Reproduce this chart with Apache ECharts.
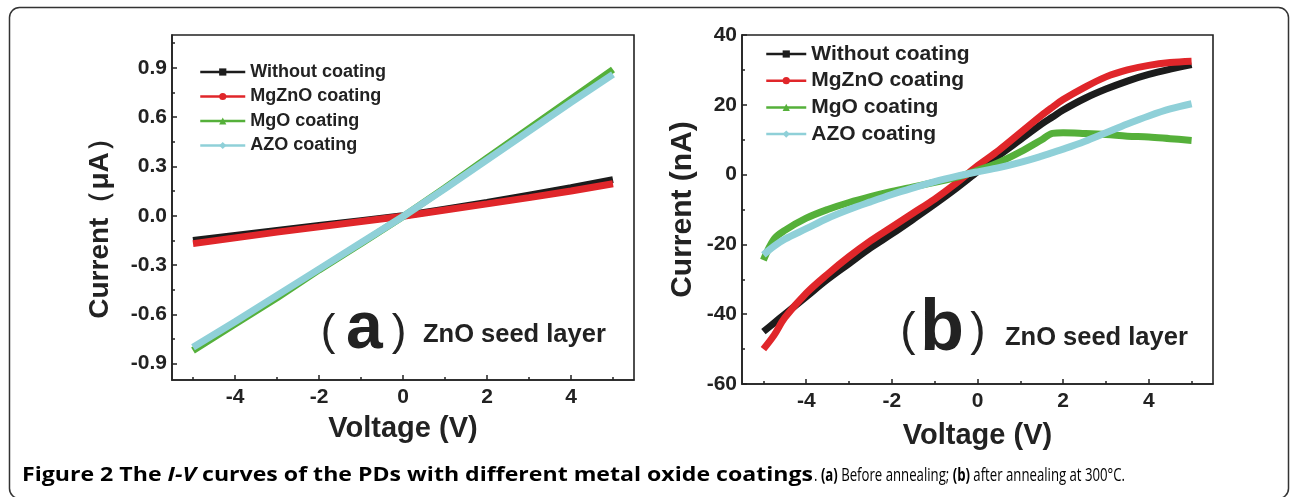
<!DOCTYPE html>
<html><head><meta charset="utf-8">
<script src="https://cdn.jsdelivr.net/npm/echarts@6/dist/echarts.min.js"></script>
<style>html,body{margin:0;padding:0;background:#fff}#c{width:1290px;height:497px}</style>
</head><body><div id="c"></div>
<script>
// ---------- data ----------
const seriesNames = ['Without coating', 'MgZnO coating', 'MgO coating', 'AZO coating'];
const seriesSymbols = ['rect', 'circle', 'triangle', 'diamond'];
const seriesColors = ['#1c1c1c', '#e0262a', '#55b03a', '#8fd0d8'];

// (a) before annealing, current in µA
const voltsA = [-5, -4, -3, -2, -1, 0, 1, 2, 3, 4, 5];
const currA_without = [-0.15, -0.12, -0.09, -0.06, -0.03, 0.0, 0.04, 0.08, 0.125, 0.17, 0.22];
const currA_mgzno  = [-0.17, -0.135, -0.10, -0.068, -0.035, -0.003, 0.035, 0.072, 0.11, 0.15, 0.195];
const currA_mgo    = [-0.82, -0.66, -0.50, -0.33, -0.17, -0.005, 0.17, 0.35, 0.53, 0.71, 0.89];
const currA_azo    = [-0.80, -0.645, -0.485, -0.325, -0.165, -0.005, 0.165, 0.34, 0.515, 0.69, 0.86];

// (b) after annealing at 300 °C, current in nA
const voltsB = [-5, -4.75, -4.5, -4, -3.5, -3, -2.5, -2, -1.5, -1, -0.5, 0, 0.5, 1, 1.5, 1.75, 2, 2.5, 3, 3.5, 4, 4.5, 5];
const currB_without = [-45, -42.5, -40, -35, -30, -25.5, -21, -17, -12.8, -8.5, -4, 0.8, 5.5, 10, 14.5, 16.5, 18.5, 21.8, 24.5, 26.8, 28.7, 30.2, 31.5];
const currB_mgzno  = [-50, -46, -41, -34, -28.5, -23.5, -19, -15, -11, -7, -2.5, 2.5, 7, 12, 17, 19.3, 21.5, 25, 28, 30, 31.3, 32.1, 32.5];
const currB_mgo    = [-24.5, -18.5, -16, -12.5, -10, -8, -6.3, -4.8, -3.5, -2.2, -0.8, 1.2, 3.5, 6.5, 10, 11.8, 12, 11.8, 11.5, 11, 10.8, 10.3, 9.8];
const currB_azo    = [-23, -20.5, -18.5, -15.5, -12.5, -10, -7.8, -5.7, -3.8, -2, -0.5, 0.8, 2, 3.5, 5.3, 6.3, 7.3, 9.5, 12, 14.5, 16.8, 18.8, 20.3];

// ticks
const xTicks = [-4, -2, 0, 2, 4];
const xMinorTicks = [-5, -3, -1, 1, 3, 5];
const yTicksA = [-0.9, -0.6, -0.3, 0, 0.3, 0.6, 0.9];
const yMinorTicksA = [-0.75, -0.45, -0.15, 0.15, 0.45, 0.75, 1.05];
const yTicksB = [-60, -40, -20, 0, 20, 40];
const yMinorTicksB = [-50, -30, -10, 10, 30];

// caption text
const captionBold = ['Figure 2 The ', 'I-V', ' curves of the PDs with different metal oxide coatings'];
const captionRest = ['. ', '(a)', ' Before annealing; ', '(b)', ' after annealing at 300°C.'];

// ---------- chart ----------
const FONT = "'Liberation Sans', Arial, sans-serif";
const CAPFONT = "'Open Sans', sans-serif";
const INK = '#222';
const zip = (xs, ys) => xs.map((x, i) => [x, ys[i]]);

const mctx = document.createElement('canvas').getContext('2d');
function tw(font, s) { mctx.font = font; return mctx.measureText(s).width; }

function mainX(gridIndex, nameGap) {
  return {
    type: 'value', gridIndex, min: -5.5, max: 5.5,
    axisLine: { show: true, onZero: false, lineStyle: { color: INK, width: 1.6 } },
    axisTick: { show: true, inside: true, length: 5, customValues: xTicks, lineStyle: { color: INK, width: 1.5 } },
    axisLabel: { customValues: xTicks, fontSize: 21, fontWeight: 'bold', color: INK, fontFamily: FONT, margin: 7 },
    splitLine: { show: false },
    name: 'Voltage (V)', nameLocation: 'middle', nameGap,
    nameTextStyle: { fontSize: 29, fontWeight: 'bold', color: INK, fontFamily: FONT }
  };
}
function minorX(gridIndex) {
  return {
    type: 'value', gridIndex, min: -5.5, max: 5.5, position: 'bottom',
    axisLine: { show: false, onZero: false },
    axisTick: { show: true, inside: true, length: 3, customValues: xMinorTicks, lineStyle: { color: INK, width: 1.5 } },
    axisLabel: { show: false }, splitLine: { show: false }
  };
}
function minorY(gridIndex, min, max, vals) {
  return {
    type: 'value', gridIndex, min, max, position: 'left',
    axisLine: { show: false, onZero: false },
    axisTick: { show: true, inside: true, length: 3, customValues: vals, lineStyle: { color: INK, width: 1.5 } },
    axisLabel: { show: false }, splitLine: { show: false }
  };
}

const dataA = [currA_without, currA_mgzno, currA_mgo, currA_azo];
const dataB = [currB_without, currB_mgzno, currB_mgo, currB_azo];

const series = [];
dataA.forEach((ys, i) => series.push({
  type: 'line', name: seriesNames[i], xAxisIndex: 0, yAxisIndex: 0,
  data: zip(voltsA, ys), symbol: seriesSymbols[i], symbolSize: 6, showSymbol: false,
  lineStyle: { color: seriesColors[i], width: 7 }, itemStyle: { color: seriesColors[i] },
  z: 2 + i, silent: true
}));
dataB.forEach((ys, i) => series.push({
  type: 'line', name: seriesNames[i], xAxisIndex: 2, yAxisIndex: 2,
  data: zip(voltsB, ys), smooth: 0.35, symbol: seriesSymbols[i], symbolSize: 6, showSymbol: false,
  lineStyle: { color: seriesColors[i], width: 7 }, itemStyle: { color: seriesColors[i] },
  z: 2 + i, silent: true
}));

const legendBase = (left, top, fontSize, lineHeight, gap, iw) => ({
  orient: 'vertical', left, top, padding: 0, itemWidth: iw, itemHeight: 9, itemGap: gap,
  data: seriesNames, selectedMode: false,
  lineStyle: { width: 2.5 },
  textStyle: { fontSize, fontWeight: 'bold', color: INK, fontFamily: FONT, lineHeight }
});

// caption widths (scaled to the measured spans of the reference)
const CB = 19, CN = 18;
const fB = 'bold ' + CB + 'px ' + CAPFONT, fBI = 'italic bold ' + CB + 'px ' + CAPFONT;
const fNb = 'bold ' + CN + 'px ' + CAPFONT, fN = CN + 'px ' + CAPFONT;
const wBold = tw(fB, captionBold[0]) + tw(fBI, captionBold[1]) + tw(fB, captionBold[2]);
const wRest = tw(fN, captionRest[0]) + tw(fNb, captionRest[1]) + tw(fN, captionRest[2]) + tw(fNb, captionRest[3]) + tw(fN, captionRest[4]);
const capRich = {
  b:  { fontFamily: CAPFONT, fontSize: CB, fontWeight: 'bold', color: '#1a1a1a' },
  bi: { fontFamily: CAPFONT, fontSize: CB, fontWeight: 'bold', fontStyle: 'italic', color: '#1a1a1a' },
  nb: { fontFamily: CAPFONT, fontSize: CN, fontWeight: 'bold', color: '#1a1a1a' },
  n:  { fontFamily: CAPFONT, fontSize: CN, color: '#444' }
};

const option = {
  animation: false,
  backgroundColor: '#fff',
  grid: [
    { left: 172, top: 35, width: 462, height: 345, show: true, borderColor: INK, borderWidth: 1.6, backgroundColor: 'transparent' },
    { left: 742, top: 35, width: 471, height: 349, show: true, borderColor: INK, borderWidth: 1.6, backgroundColor: 'transparent' }
  ],
  xAxis: [mainX(0, 34), minorX(0), mainX(1, 37), minorX(1)],
  yAxis: [
    {
      type: 'value', gridIndex: 0, min: -1.0, max: 1.1,
      axisLine: { show: true, onZero: false, lineStyle: { color: INK, width: 1.6 } },
      axisTick: { show: true, inside: true, length: 5, customValues: yTicksA, lineStyle: { color: INK, width: 1.5 } },
      axisLabel: { customValues: yTicksA, fontSize: 21, fontWeight: 'bold', color: INK, fontFamily: FONT, margin: 5,
                   formatter: v => v.toFixed(1) },
      splitLine: { show: false },
      name: 'Current（μA）', nameLocation: 'middle', nameGap: 58,
      nameTextStyle: { fontSize: 28, fontWeight: 'bold', color: INK, fontFamily: FONT, padding: [0, 28, 0, 0] }
    },
    minorY(0, -1.0, 1.1, yMinorTicksA),
    {
      type: 'value', gridIndex: 1, min: -60, max: 40, interval: 20,
      axisLine: { show: true, onZero: false, lineStyle: { color: INK, width: 1.6 } },
      axisTick: { show: true, inside: true, length: 5, lineStyle: { color: INK, width: 1.5 } },
      axisLabel: { fontSize: 21, fontWeight: 'bold', color: INK, fontFamily: FONT, margin: 5 },
      splitLine: { show: false },
      name: 'Current (nA)', nameLocation: 'middle', nameGap: 44,
      nameTextStyle: { fontSize: 30, fontWeight: 'bold', color: INK, fontFamily: FONT }
    },
    minorY(1, -60, 40, yMinorTicksB)
  ],
  legend: [
    legendBase(199, 62, 18, 20, 4.5, 45),
    legendBase(765, 43, 21, 22, 4.7, 40)
  ],
  series,
  graphic: [
    { type: 'rect', silent: true, z: 100,
      shape: { x: 9.5, y: 7.5, width: 1279, height: 491, r: 10 },
      style: { fill: 'none', stroke: '#333', lineWidth: 1.5 } },
    // panel (a) label
    { type: 'text', silent: true, z: 100, style: { x: 328, y: 333, text: '(', font: 'normal 44px ' + FONT, fill: INK, textAlign: 'center', textVerticalAlign: 'middle' } },
    { type: 'text', silent: true, z: 100, style: { x: 346, y: 330, text: 'a', font: 'bold 66px ' + FONT, fill: INK, textAlign: 'left', textVerticalAlign: 'middle' } },
    { type: 'text', silent: true, z: 100, style: { x: 399, y: 333, text: ')', font: 'normal 44px ' + FONT, fill: INK, textAlign: 'center', textVerticalAlign: 'middle' } },
    { type: 'text', silent: true, z: 100, style: { x: 423, y: 335, text: 'ZnO seed layer', font: 'bold 25.5px ' + FONT, fill: INK, textAlign: 'left', textVerticalAlign: 'middle' } },
    // panel (b) label
    { type: 'text', silent: true, z: 100, style: { x: 908, y: 332, text: '(', font: 'normal 46px ' + FONT, fill: INK, textAlign: 'center', textVerticalAlign: 'middle' } },
    { type: 'text', silent: true, z: 100, style: { x: 920, y: 330, text: 'b', font: 'bold 72px ' + FONT, fill: INK, textAlign: 'left', textVerticalAlign: 'middle' } },
    { type: 'text', silent: true, z: 100, style: { x: 978, y: 332, text: ')', font: 'normal 46px ' + FONT, fill: INK, textAlign: 'center', textVerticalAlign: 'middle' } },
    { type: 'text', silent: true, z: 100, style: { x: 1005, y: 338, text: 'ZnO seed layer', font: 'bold 25.5px ' + FONT, fill: INK, textAlign: 'left', textVerticalAlign: 'middle' } },
    // caption
    { type: 'text', silent: true, z: 100, x: 22, y: 476, scaleX: 791 / wBold, style: {
        x: 0, y: 0, textAlign: 'left', textVerticalAlign: 'middle',
        text: '{b|' + captionBold[0] + '}{bi|' + captionBold[1] + '}{b|' + captionBold[2] + '}',
        rich: capRich } },
    { type: 'text', silent: true, z: 100, x: 814, y: 476, scaleX: 311 / wRest, style: {
        x: 0, y: 0, textAlign: 'left', textVerticalAlign: 'middle',
        text: '{n|' + captionRest[0] + '}{nb|' + captionRest[1] + '}{n|' + captionRest[2] + '}{nb|' + captionRest[3] + '}{n|' + captionRest[4] + '}',
        rich: capRich } }
  ]
};

const chart = echarts.init(document.getElementById('c'), null, { renderer: 'canvas' });
chart.setOption(option);
</script>
</body></html>
